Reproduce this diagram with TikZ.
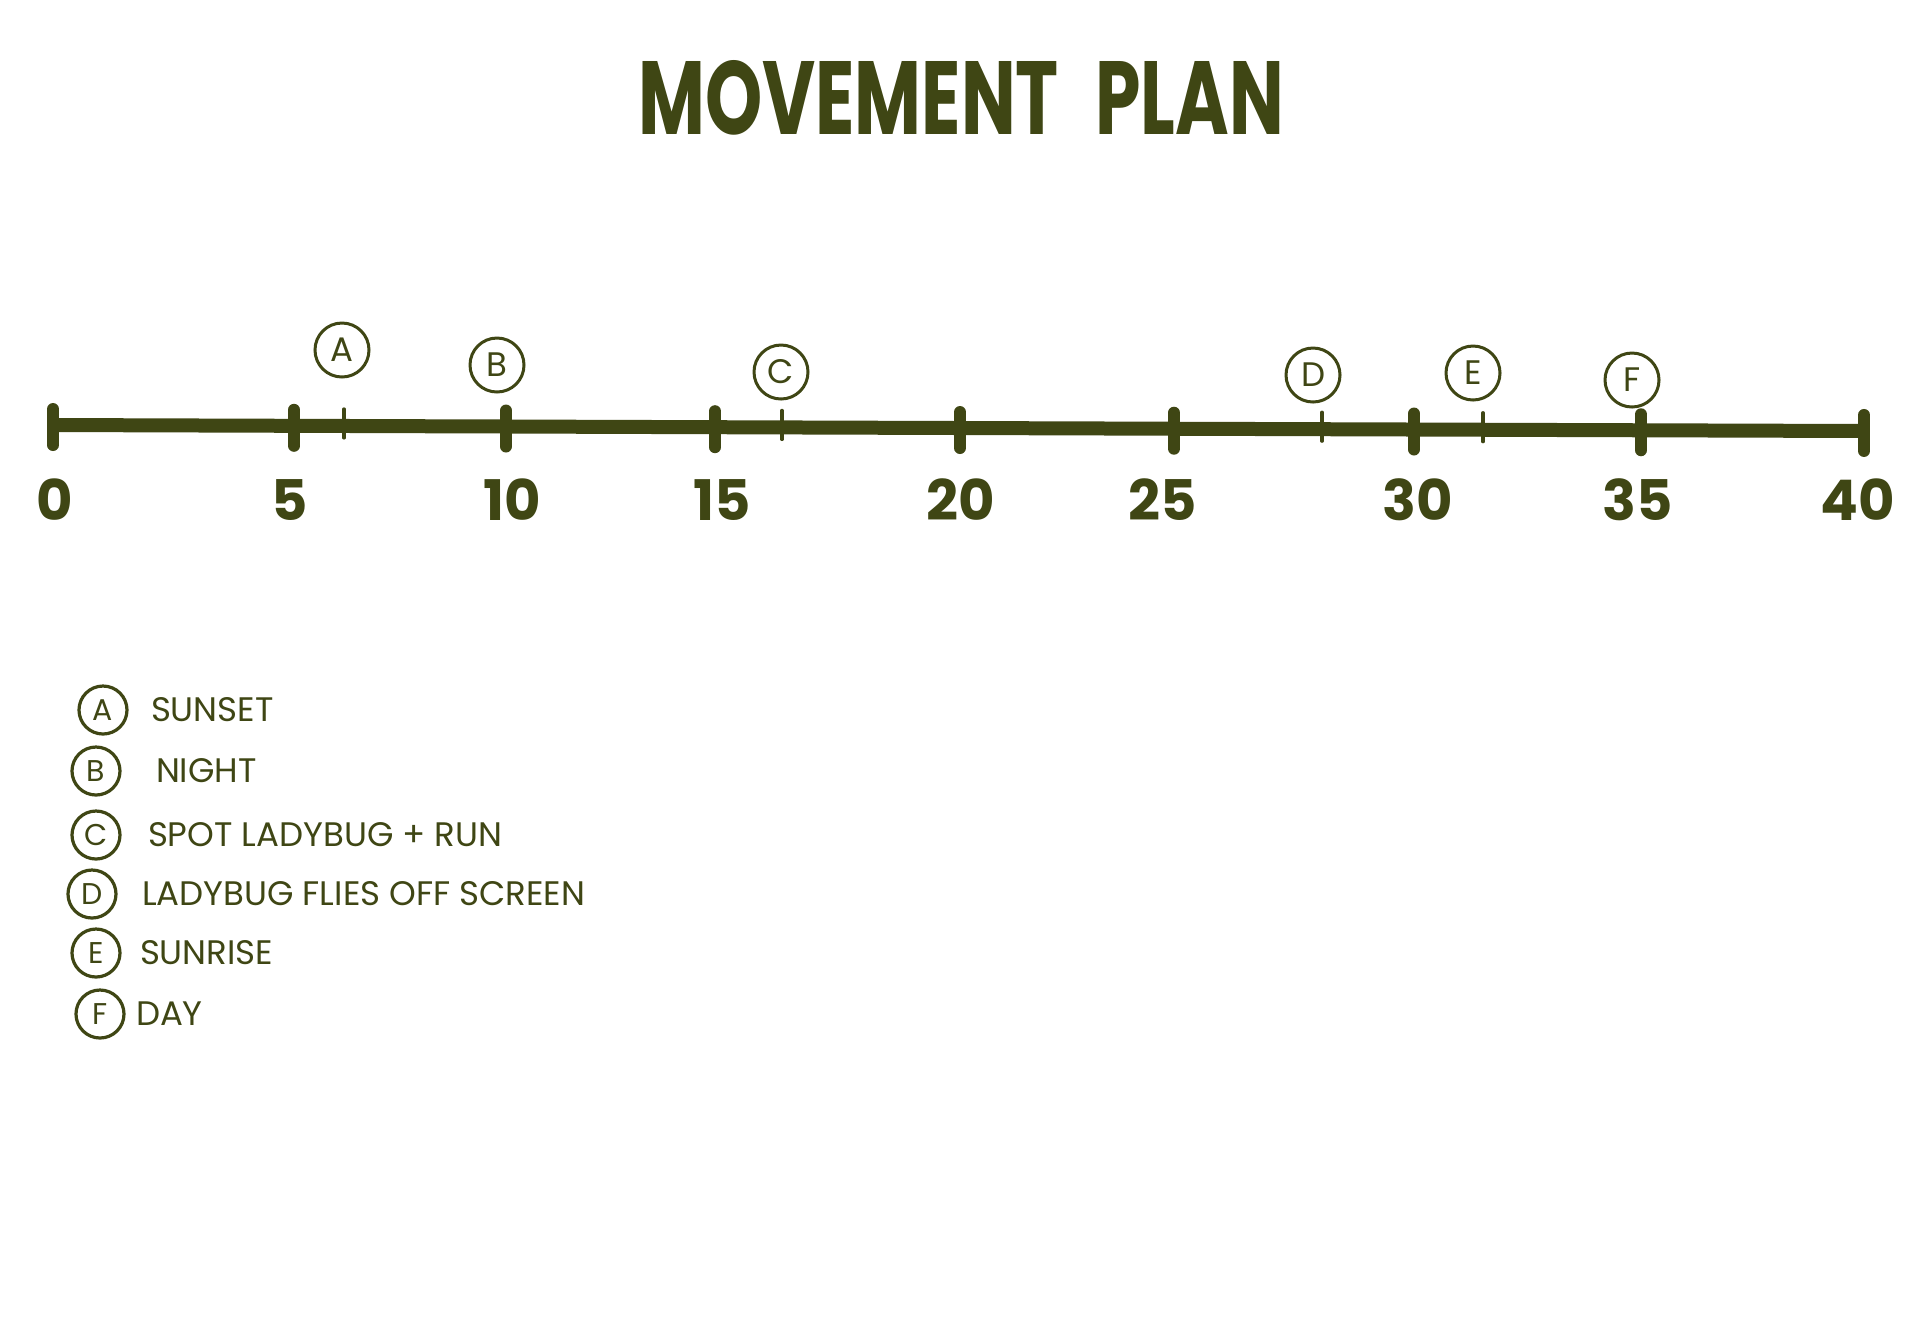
\documentclass[tikz,border=0pt]{standalone}
\usepackage{graphicx}
\usepackage{fontspec}
\setmainfont{Poppins}
\usetikzlibrary{positioning}
\definecolor{ink}{HTML}{3F4614}

\begin{document}
\begin{tikzpicture}[x=0.5pt,y=-0.5pt,draw=ink,text=ink,
  majortick/.style={line width=6pt,line cap=round},
  minortick/.style={line width=1.6pt,line cap=round},
  numlbl/.style={font=\fontsize{28}{30}\selectfont\bfseries,inner sep=0pt},
  cue/.style={draw,circle,line width=1.5pt,minimum size=27pt,inner sep=0pt,font=\fontsize{17}{18}\selectfont},
  legcircle/.style={draw,circle,line width=1.6pt,minimum size=24pt,inner sep=0pt,font=\fontsize{15}{16}\selectfont},
  legtext/.style={font=\fontsize{17}{19}\selectfont,inner sep=0pt}]
  \useasboundingbox[fill=white] (0,0) rectangle (1920,1341);
  \node[font=\fontsize{52}{56}\selectfont\bfseries] (title) at (961,98) {\scalebox{0.7}[1]{MOVEMENT\hspace{0.5em}PLAN}};
  % time line
  \coordinate (a0) at (53,425);
  \coordinate (a40) at (1864,431);
  \draw[line width=7pt] (a0) -- (a40);
  \foreach \x/\n/\lx in {53/0/55,294/5/290,506/10/512,715/15/722,960/20/961,1174/25/1163,1414/30/1418,1641/35/1638,1864/40/1858} {
    \coordinate (p\n) at (\x,{425+0.0033*(\x-53)});
    \draw[majortick] ([yshift=8pt]p\n) -- ([yshift=-10pt]p\n);
    \node[numlbl] (n\n) at (\lx,500) {\n};
  }
  \foreach \x in {344,782,1322,1483}
    \draw[minortick] (\x,{425+0.0033*(\x-53)-17}) -- ++(0,29);
  % cues above the line
  \foreach \l/\x/\y in {A/342/350,B/497/365,C/781/372,D/1313/375,E/1473/373,F/1632/380}
    \node[cue] (c\l) at (\x,\y) {\l};
  % legend
  \foreach \l/\y/\cx/\gap/\txt in {A/710/103/11/SUNSET,B/771/96/17/NIGHT,C/835/96/13/SPOT LADYBUG + RUN,D/894/92/12/LADYBUG FLIES OFF SCREEN,E/953/96/9/SUNRISE,F/1014/100/5/DAY} {
    \node[legcircle] (l\l) at (\cx,\y) {\l};
    \node[legtext,right=\gap pt of l\l] (t\l) {\txt};
  }
\end{tikzpicture}
\end{document}
